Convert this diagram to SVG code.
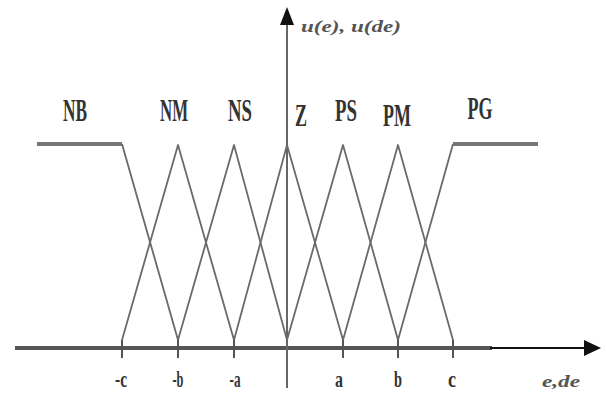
<svg xmlns="http://www.w3.org/2000/svg" width="606" height="396" viewBox="0 0 606 396">
<style>
.mf{fill:none;stroke:#6a6a6a;stroke-width:1.8;stroke-linejoin:round}
.plat{fill:none;stroke:#777;stroke-width:4;stroke-linejoin:round}
.tick{stroke:#555;stroke-width:2}
.lbl{font-family:"Liberation Serif",serif;font-weight:bold;font-size:32px;fill:#333;text-anchor:middle}
.xl{font-family:"Liberation Serif",serif;font-weight:bold;font-size:24px;fill:#333;text-anchor:middle}
.ax{font-family:"Liberation Serif",serif;font-style:italic;font-weight:bold;font-size:17px;fill:#555}
</style>
<rect width="606" height="396" fill="#fff"/>
<g id="connectors">
<line x1="15" y1="348" x2="492" y2="348" stroke="#555" stroke-width="4"/>
<line x1="490" y1="348" x2="586" y2="348" stroke="#111" stroke-width="2"/>
<polygon points="584,340 601,348 584,356" fill="#111"/>
<line x1="287" y1="24" x2="287" y2="388" stroke="#666" stroke-width="2"/>
<polygon points="280,25 287,7 294,25" fill="#111"/>
<line class="tick" x1="122" y1="340" x2="122" y2="358"/>
<line class="tick" x1="178" y1="340" x2="178" y2="358"/>
<line class="tick" x1="234" y1="340" x2="234" y2="358"/>
<line class="tick" x1="343" y1="340" x2="343" y2="358"/>
<line class="tick" x1="398" y1="340" x2="398" y2="358"/>
<line class="tick" x1="453" y1="340" x2="453" y2="358"/>
</g>
<g id="NB"><polyline class="plat" points="37,144 122,144"/><polyline class="mf" points="122,144 178,340"/><text class="lbl" x="75" y="121" textLength="24" lengthAdjust="spacingAndGlyphs">NB</text></g>
<g id="NM"><polyline class="mf" points="122,340 178,145 234,340"/><text class="lbl" x="174" y="121" textLength="28" lengthAdjust="spacingAndGlyphs">NM</text></g>
<g id="NS"><polyline class="mf" points="178,340 234,145 287,340"/><text class="lbl" x="240" y="121" textLength="24" lengthAdjust="spacingAndGlyphs">NS</text></g>
<g id="Z"><polyline class="mf" points="234,340 287,145 343,340"/><text class="lbl" x="301" y="126" textLength="12" lengthAdjust="spacingAndGlyphs">Z</text></g>
<g id="PS"><polyline class="mf" points="287,340 343,145 398,340"/><text class="lbl" x="346" y="121" textLength="22" lengthAdjust="spacingAndGlyphs">PS</text></g>
<g id="PM"><polyline class="mf" points="343,340 398,145 453,340"/><text class="lbl" x="397" y="126" textLength="28" lengthAdjust="spacingAndGlyphs">PM</text></g>
<g id="PG"><polyline class="mf" points="398,340 453,144"/><polyline class="plat" points="453,144 538,144"/><text class="lbl" x="480" y="119" textLength="25" lengthAdjust="spacingAndGlyphs">PG</text></g>
<g id="labels">
<text class="ax" x="301" y="32" textLength="100" lengthAdjust="spacingAndGlyphs">u(e), u(de)</text>
<text class="ax" x="542" y="387" textLength="38" lengthAdjust="spacingAndGlyphs">e,de</text>
<text class="xl" x="121" y="387" textLength="12" lengthAdjust="spacingAndGlyphs">-c</text>
<text class="xl" x="178" y="387" textLength="11" lengthAdjust="spacingAndGlyphs">-b</text>
<text class="xl" x="235" y="387" textLength="11" lengthAdjust="spacingAndGlyphs">-a</text>
<text class="xl" x="339" y="387" textLength="8" lengthAdjust="spacingAndGlyphs">a</text>
<text class="xl" x="398" y="387" textLength="8" lengthAdjust="spacingAndGlyphs">b</text>
<text class="xl" x="452" y="387" textLength="8" lengthAdjust="spacingAndGlyphs">c</text>
</g>
</svg>
